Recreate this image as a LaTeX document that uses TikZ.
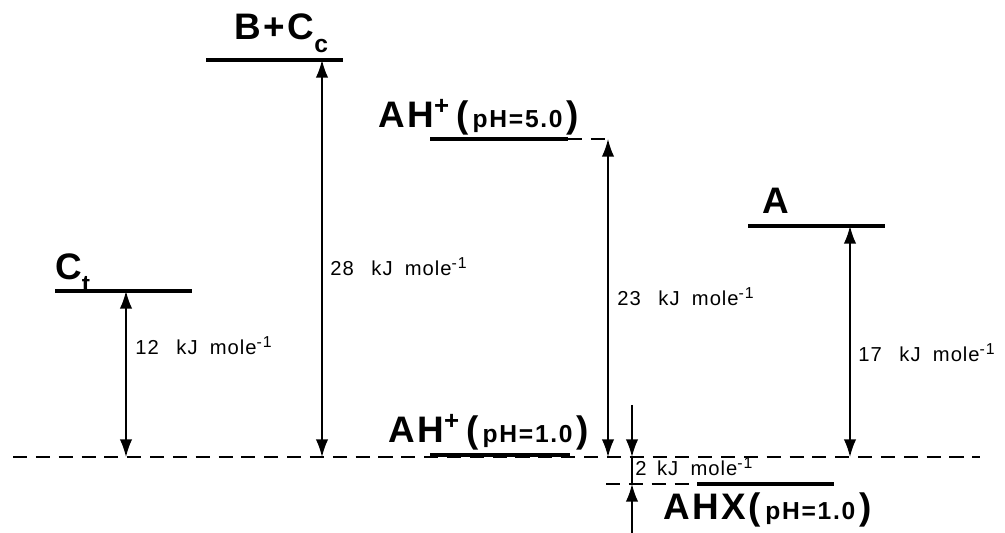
\documentclass[tikz,border=0pt]{standalone}
\usepackage{fontspec}
\setmainfont{Liberation Sans}
\newfontfamily\bigfont[LetterSpace=7]{Liberation Sans}
\newfontfamily\kjfont[LetterSpace=5]{Liberation Sans}
\usetikzlibrary{arrows.meta}
\tikzset{
  level/.style={line width=2.6pt},
  guide/.style={line width=0.8pt, dash pattern=on 8pt off 5pt},
  gap/.style={line width=0.9pt, {Latex[length=10pt,width=7pt]}-{Latex[length=10pt,width=7pt]}},
  tipdown/.style={line width=0.9pt, -{Latex[length=10pt,width=7pt]}},
  big/.style={font=\bigfont\fontsize{21}{21}\selectfont\bfseries, inner sep=0pt},
  kj/.style={font=\kjfont\fontsize{11.5}{14}\selectfont, inner sep=0pt},
}
\newcommand{\phtxt}[1]{{\fontsize{14}{14}\selectfont\,#1\,}}
\newcommand{\lowsub}[1]{\raisebox{-0.35em}{\fontsize{14}{14}\selectfont #1}}
\newcommand{\kjtxt}[1]{#1\hspace{10pt}kJ\hspace{7pt}mole\textsuperscript{\fontsize{9}{9}\selectfont -1}}
\begin{document}
\begin{tikzpicture}[x=0.02cm, y=-0.02cm]
\useasboundingbox (0,0) rectangle (1005,533);
% level end points
\coordinate (ctL) at (55,291);  \coordinate (ctR) at (192,291);
\coordinate (bcL) at (206,60);  \coordinate (bcR) at (343,60);
\coordinate (a5L) at (430,139); \coordinate (a5R) at (568,139); \coordinate (a5D) at (612,139);
\coordinate (aL) at (748,226);  \coordinate (aR) at (885,226);
\coordinate (a1L) at (430,455); \coordinate (a1R) at (570,455);
\coordinate (axL) at (697,484); \coordinate (axR) at (834,484); \coordinate (axD) at (606,484);
\coordinate (gL) at (13,457);   \coordinate (gR) at (980,457);
% arrow ends
\coordinate (c1t) at (126,291); \coordinate (c1b) at (126,457);
\coordinate (c2t) at (322,60);  \coordinate (c2b) at (322,457);
\coordinate (c3t) at (608,139); \coordinate (c3b) at (608,457);
\coordinate (c4t) at (850,226); \coordinate (c4b) at (850,457);
\coordinate (s1) at (632,405);  \coordinate (s2) at (632,457);
\coordinate (s3) at (632,533);  \coordinate (s4) at (632,484);
% guides
\draw[guide] (gL) -- (gR);
\draw[guide] (a5R) -- (a5D);
\draw[guide] (axD) -- (axL);
% levels
\draw[level] (ctL) -- (ctR);
\draw[level] (bcL) -- (bcR);
\draw[level] (a5L) -- (a5R);
\draw[level] (aL) -- (aR);
\draw[level] (a1L) -- (a1R);
\draw[level] (axL) -- (axR);
% arrows
\draw[gap] (c1t) -- (c1b);
\draw[gap] (c2t) -- (c2b);
\draw[gap] (c3t) -- (c3b);
\draw[gap] (c4t) -- (c4b);
\draw[tipdown] (s1) -- (s2);
\draw[tipdown] (s3) -- (s4);
\draw[line width=0.9pt] (s2) -- (s4);
% labels
\node[big, anchor=base west] (lct) at (55,280) {C\lowsub{t}};
\node[big, anchor=base west] (lbc) at (234,40) {B+C\lowsub{c}};
\node[big, anchor=base west] (la5) at (378,128) {AH\textsuperscript{+}\,(\phtxt{pH=5.0})};
\node[big, anchor=base west] (la) at (762,214) {A};
\node[big, anchor=base west] (la1) at (388,443) {AH\textsuperscript{+}\,(\phtxt{pH=1.0})};
\node[big, anchor=base west] (lax) at (663,520) {AHX(\phtxt{pH=1.0})};
\node[kj, anchor=base west] (k1) at (135,355) {\kjtxt{12}};
\node[kj, anchor=base west] (k2) at (330,276) {\kjtxt{28}};
\node[kj, anchor=base west] (k3) at (617,306) {\kjtxt{23}};
\node[kj, anchor=base west] (k4) at (858,362) {\kjtxt{17}};
\node[kj, anchor=base west] (k5) at (635,476) {2\hspace{6pt}kJ\hspace{7pt}mole\textsuperscript{\fontsize{9}{9}\selectfont -1}};
\end{tikzpicture}
\end{document}
